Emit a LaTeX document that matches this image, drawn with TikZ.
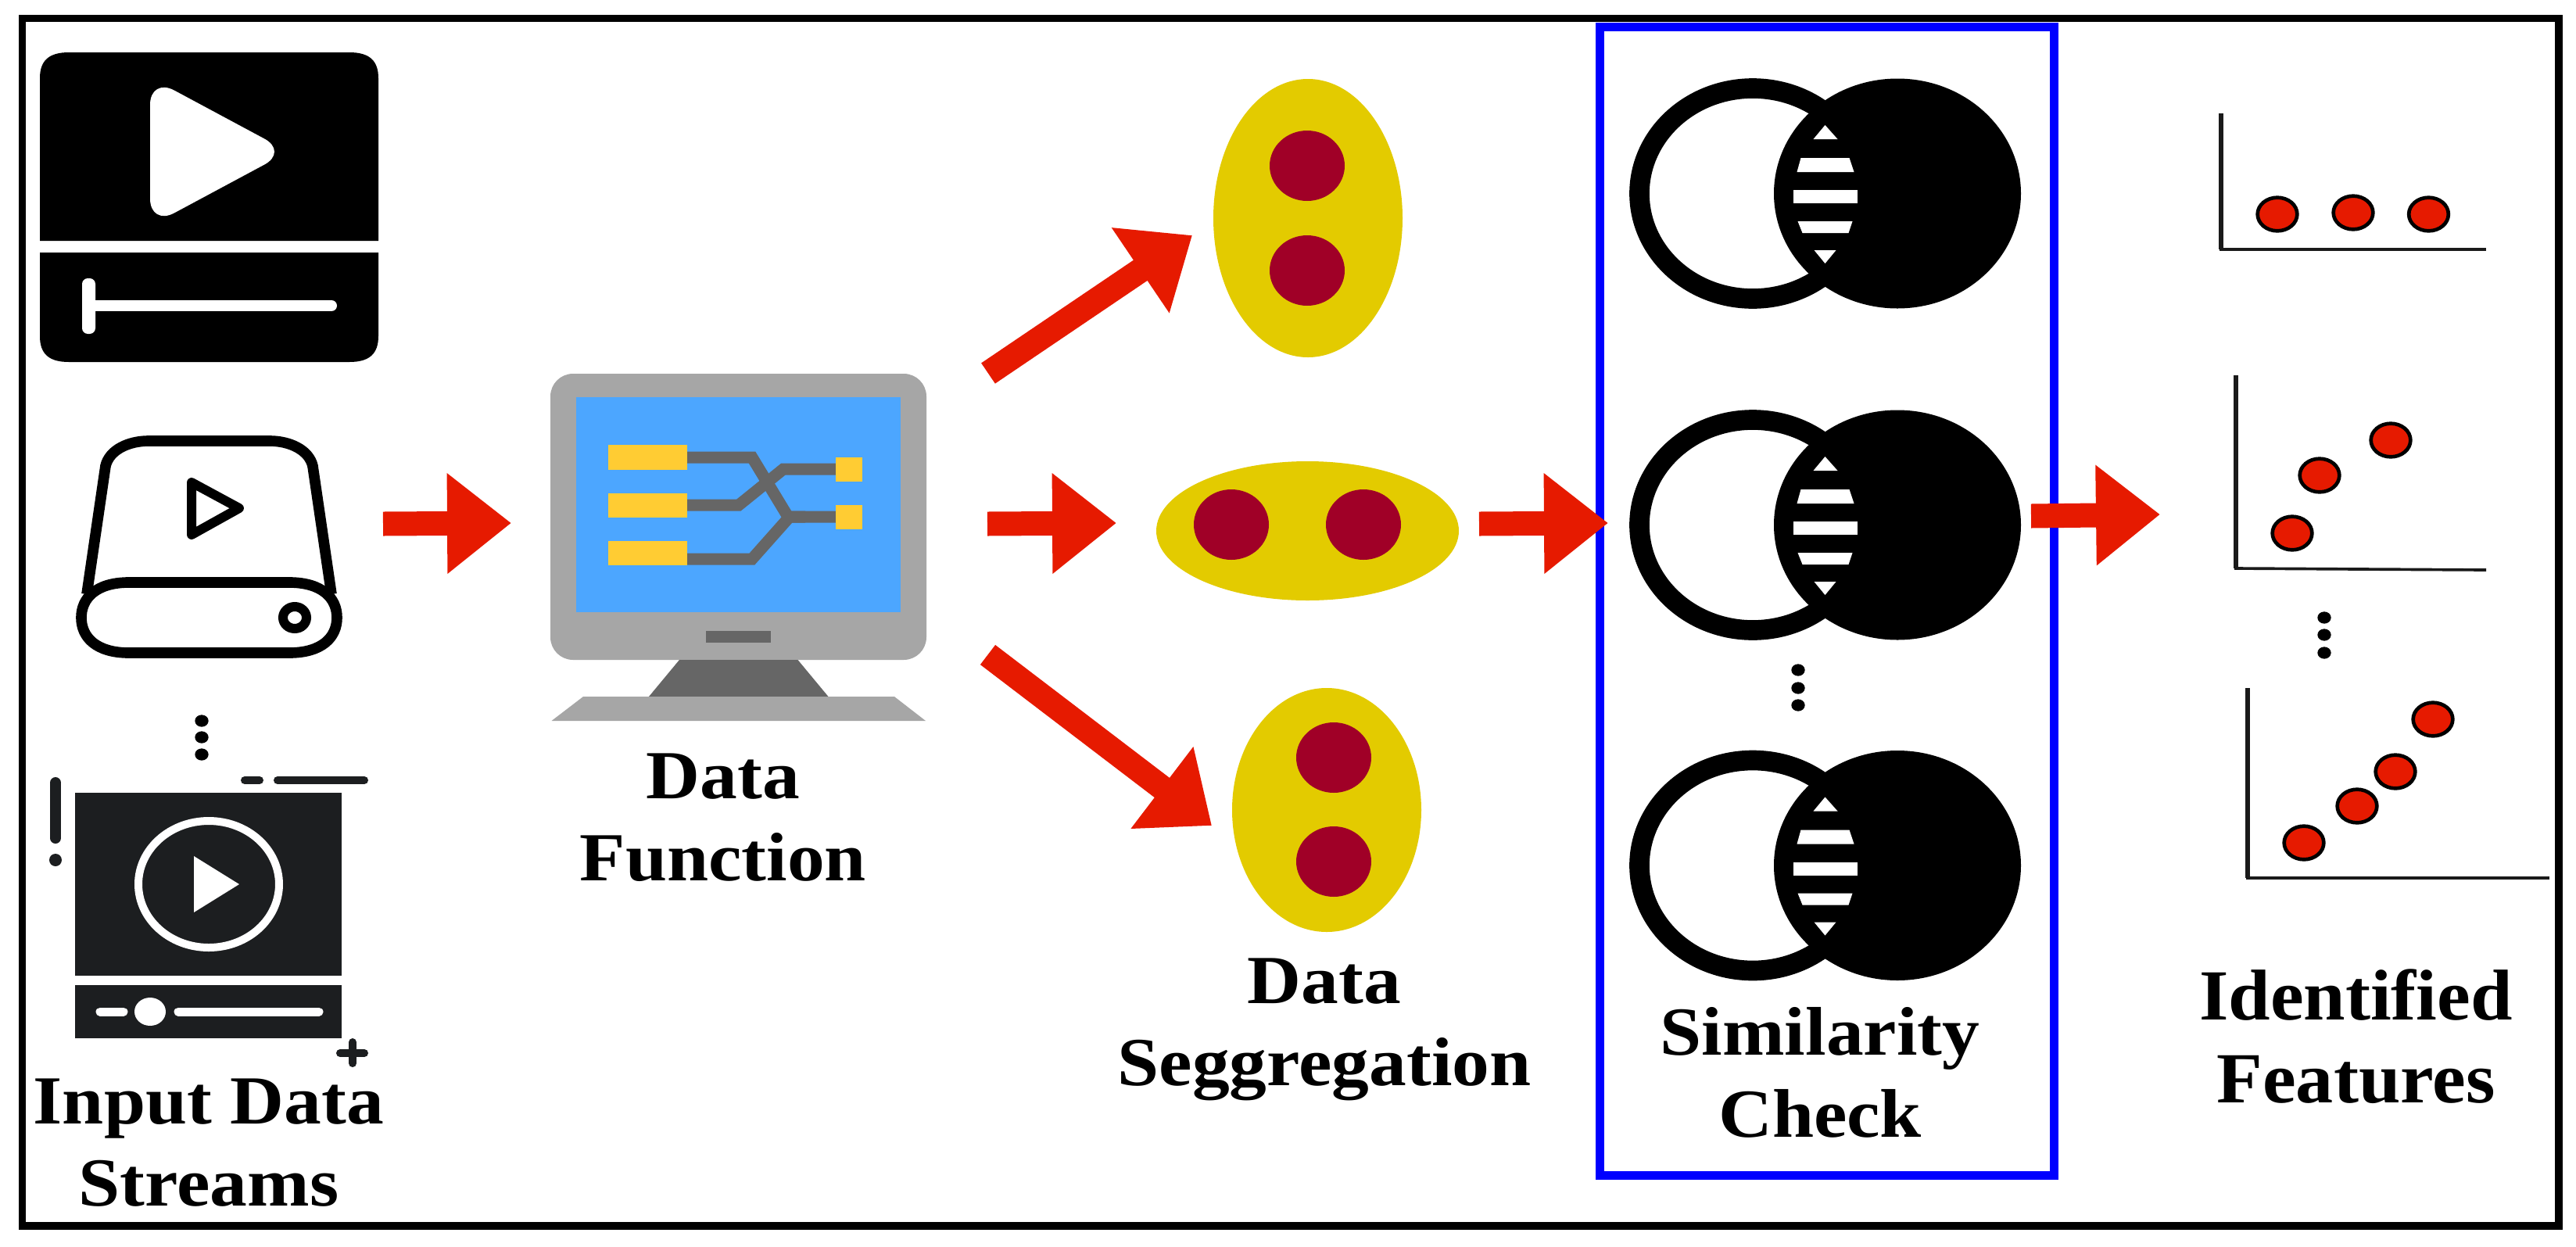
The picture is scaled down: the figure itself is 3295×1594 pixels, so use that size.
\documentclass[tikz,border=0pt]{standalone}
\usepackage{fontspec}
\usetikzlibrary{arrows.meta,shapes.geometric}
\newfontfamily\lblfont{Liberation Serif}[FakeStretch=1.085,Ligatures=NoCommon]
\newfontfamily\lblfontb{Liberation Serif}[FakeStretch=1.045,Ligatures=NoCommon]
\definecolor{arrowred}{HTML}{E61A00}
\definecolor{blobyellow}{HTML}{E3CB00}
\definecolor{blobred}{HTML}{A00027}
\definecolor{screenblue}{HTML}{4CA6FF}
\definecolor{mongray}{HTML}{A6A6A6}
\definecolor{mondark}{HTML}{666666}
\definecolor{monyellow}{HTML}{FFCC33}
\definecolor{filmdark}{HTML}{1C1E20}
\definecolor{axisdark}{HTML}{1A1A1A}
\tikzset{
  lbl/.style={align=center,inner sep=0pt,anchor=base,text=black,
    font=\lblfont\bfseries\fontsize{26.4}{31.5}\selectfont},
  hblock/.style={draw=arrowred,line width=9.3pt,line cap=butt,
    -{Triangle[length=24.6pt,width=37pt,fill=arrowred]}},
  dblock/.style={draw=arrowred,line width=9.5pt,line cap=butt,
    -{Triangle[length=24pt,width=38pt,fill=arrowred]}},
  blob/.style={ellipse,fill=blobyellow,inner sep=0pt},
  seed/.style={ellipse,fill=blobred,inner sep=0pt,minimum width=28.8pt,minimum height=27pt},
  pt/.style={ellipse,draw=black,line width=1.4pt,fill=arrowred,inner sep=0pt,minimum width=15.2pt,minimum height=12.8pt},
  vdot/.style={ellipse,fill=black,inner sep=0pt,minimum width=5.2pt,minimum height=4.6pt},
  vaxis/.style={draw=axisdark,line width=1.6pt,line cap=square},
  haxis/.style={draw=axisdark,line width=1.1pt,line cap=butt},
  trace/.style={draw=mondark,line width=4.5pt,line join=miter},
  venn/.pic={
    \draw[black,line width=7.7pt,fill=white] (-92.5,0) ellipse [x radius=145,y radius=134.5];
    \fill[black] (92.5,0) ellipse [x radius=158,y radius=147];
    \fill[white] (0,-87.5) -- (16,-69.5) -- (-15,-69.5) -- cycle;
    \fill[white] (-31,-45.5) -- (31,-45.5) -- (37,-27.5) -- (-36,-27.5) -- cycle;
    \fill[white] (-41,-4.5) rectangle (41,12.5);
    \fill[white] (-35,35.5) -- (35,35.5) -- (30,50.5) -- (-29,50.5) -- cycle;
    \fill[white] (-14,72.5) -- (14,72.5) -- (0,89.5) -- cycle;
  }
}
\begin{document}
\begin{tikzpicture}[x=0.3pt,y=-0.3pt]
\path[use as bounding box,fill=white] (0,0) rectangle (3295,1594);
\draw[black,line width=2.8pt] (28.5,23.5) rectangle (3273,1568);

% top video icon
\fill[black] (51,308) -- (51,100) .. controls (51,78) and (62,67) .. (88,67) -- (447,67) .. controls (473,67) and (484,78) .. (484,100) -- (484,308) -- cycle;
\fill[black] (51,323) -- (51,430) .. controls (51,452) and (62,463) .. (88,463) -- (447,463) .. controls (473,463) and (484,452) .. (484,430) -- (484,323) -- cycle;
\fill[white,rounded corners=10.5pt] (192,99) -- (369,194) -- (192,289) -- cycle;
\fill[white,rounded corners=2.2pt] (105,356) rectangle (122,427);
\draw[white,line width=4.2pt,line cap=round] (118,391) -- (424,391);

% drive icon
\draw[black,line width=4.1pt,line join=round] (111,760) -- (135,596) .. controls (140,575) and (165,564) .. (190,564) -- (345,564) .. controls (370,564) and (395,575) .. (400,596) -- (424,760);
\draw[black,line width=4.1pt,fill=white] (165,745) -- (370,745) .. controls (412,745) and (431,765) .. (431,790) .. controls (431,815) and (412,835) .. (370,835) -- (165,835) .. controls (123,835) and (104,815) .. (104,790) .. controls (104,765) and (123,745) .. (165,745) -- cycle;
\draw[black,line width=3.6pt,fill=white] (377,790) ellipse [x radius=15,y radius=14];
\draw[black,line width=3.6pt,line join=round] (245,617) -- (306,650) -- (245,684) -- cycle;

% dots under drive
\node[vdot] (d1) at (258,922) {};
\node[vdot] (d2) at (258,943) {};
\node[vdot] (d3) at (258,965) {};

% film icon
\fill[filmdark] (96,1014) rectangle (437,1248);
\fill[filmdark] (96,1260) rectangle (437,1328);
\draw[white,line width=3pt] (267,1131) ellipse [x radius=90,y radius=81];
\fill[white] (248,1095) -- (306,1131) -- (248,1167) -- cycle;
\draw[white,line width=3.3pt,line cap=round] (128,1294) -- (158,1294);
\draw[white,line width=3.3pt,line cap=round] (228,1294) -- (408,1294);
\fill[white] (192,1294) ellipse [x radius=20,y radius=18];
\draw[filmdark,line width=4.2pt,line cap=round] (71,1001) -- (71,1072);
\fill[filmdark] (71,1100) ellipse [x radius=8,y radius=8];
\draw[filmdark,line width=3pt,line cap=round] (313,998) -- (332,998);
\draw[filmdark,line width=3pt,line cap=round] (355,998) -- (466,998);
\draw[filmdark,line width=3pt,line cap=round] (435,1347) -- (466,1347);
\draw[filmdark,line width=3pt,line cap=round] (451,1333) -- (451,1360);

\node[lbl] (inlabel) at (267,1542) {Input Data\\Streams};

% monitor
\node[fill=mongray,rounded corners=8.7pt,inner sep=0pt,minimum width=144.3pt,minimum height=109.8pt] (monitor) at (944.5,661) {};
\node[fill=screenblue,inner sep=0pt,minimum width=124.6pt,minimum height=82.5pt] (screen) at (944.3,645.5) {};
\fill[mondark] (903,807) rectangle (986,822);
\fill[mondark] (869,844) -- (1020.5,844) -- (1059.5,891) -- (830,891) -- cycle;
\fill[mongray] (746,891) -- (1144,891) -- (1184,922) -- (705.5,922) -- cycle;
\draw[trace] (878,646) -- (945,646) -- (1002,600) -- (1069,600);
\draw[trace] (878,585) -- (962,585) -- (1008,661) -- (1069,661);
\draw[trace] (878,715) -- (962,715) -- (1010,661) -- (1030,661);
\fill[monyellow] (778,569) rectangle (878.5,601);
\fill[monyellow] (778,631) rectangle (878.5,662);
\fill[monyellow] (778,692) rectangle (878.5,723);
\fill[monyellow] (1069,585) rectangle (1103,616);
\fill[monyellow] (1069,646) rectangle (1103,677);
\node[lbl] (fnlabel) at (925,1126) {Data\\Function};

% segregated blobs
\node[blob,minimum width=72.6pt,minimum height=106.8pt] (etop) at (1673,279) {};
\node[seed] (etop1) at (1672,212) {};
\node[seed] (etop2) at (1672,346) {};
\node[blob,minimum width=116.1pt,minimum height=53.4pt] (emid) at (1672.5,679) {};
\node[seed] (emid1) at (1575,671) {};
\node[seed] (emid2) at (1744,671) {};
\node[blob,minimum width=72.6pt,minimum height=93.6pt] (ebot) at (1697,1036) {};
\node[seed] (ebot1) at (1706,969) {};
\node[seed] (ebot2) at (1706,1102) {};
\node[lbl] (seglabel) at (1694,1388) {Data\\Seggregation};

% similarity box
\node[draw=blue,line width=3.3pt,inner sep=0pt,minimum width=174.2pt,minimum height=440.55pt] (simbox) at (2337.1,768.75) {};
\pic (v1) at (2334.5,247.5) {venn};
\pic (v2) at (2334.5,671.5) {venn};
\pic (v3) at (2334.5,1107) {venn};
\node[vdot] (s1) at (2300,857) {};
\node[vdot] (s2) at (2300,880) {};
\node[vdot] (s3) at (2300,902) {};
\node[lbl] (simlabel) at (2328,1454) {Similarity\\Check};

% feature charts
\coordinate (c1o) at (2841,319);
\draw[vaxis] (2841,145) -- (c1o);
\draw[haxis] (2839,319) -- (3180,319);
\node[pt] (p11) at (2913,274) {};
\node[pt] (p12) at (3010,272) {};
\node[pt] (p13) at (3106.5,274) {};
\coordinate (c2o) at (2860,727);
\draw[vaxis] (2860,480) -- (c2o);
\draw[haxis] (2858,727) -- (3180,729);
\node[pt] (p21) at (2932,682) {};
\node[pt] (p22) at (2967,608) {};
\node[pt] (p23) at (3058,563) {};
\node[vdot] (f1) at (2973,790) {};
\node[vdot] (f2) at (2973,812) {};
\node[vdot] (f3) at (2973,835) {};
\coordinate (c3o) at (2875,1123);
\draw[vaxis] (2875,880) -- (c3o);
\draw[haxis] (2873,1123) -- (3261,1123);
\node[pt] (p31) at (2947,1078) {};
\node[pt] (p32) at (3015,1031) {};
\node[pt] (p33) at (3064,987) {};
\node[pt] (p34) at (3112,920) {};
\node[lbl,font=\lblfontb\bfseries\fontsize{27.6}{31.8}\selectfont] (idlabel) at (3013.5,1410) {Identified\\Features};

% red block arrows
\coordinate (a1s) at (490,670);
\coordinate (a1e) at (654,669);
\coordinate (a2s) at (1263,670);
\coordinate (a2e) at (1428,669);
\coordinate (a3s) at (1892,670);
\coordinate (a3e) at (2057,669);
\coordinate (a4s) at (2598,660);
\coordinate (a4e) at (2763,658);
\coordinate (a5s) at (1264,477.5);
\coordinate (a5e) at (1525,301);
\coordinate (a6s) at (1263.5,837.5);
\coordinate (a6e) at (1550,1056);
\draw[hblock] (a1s) -- (a1e);
\draw[hblock] (a2s) -- (a2e);
\draw[hblock] (a3s) -- (a3e);
\draw[hblock] (a4s) -- (a4e);
\draw[dblock] (a5s) -- (a5e);
\draw[dblock] (a6s) -- (a6e);
\end{tikzpicture}
\end{document}
